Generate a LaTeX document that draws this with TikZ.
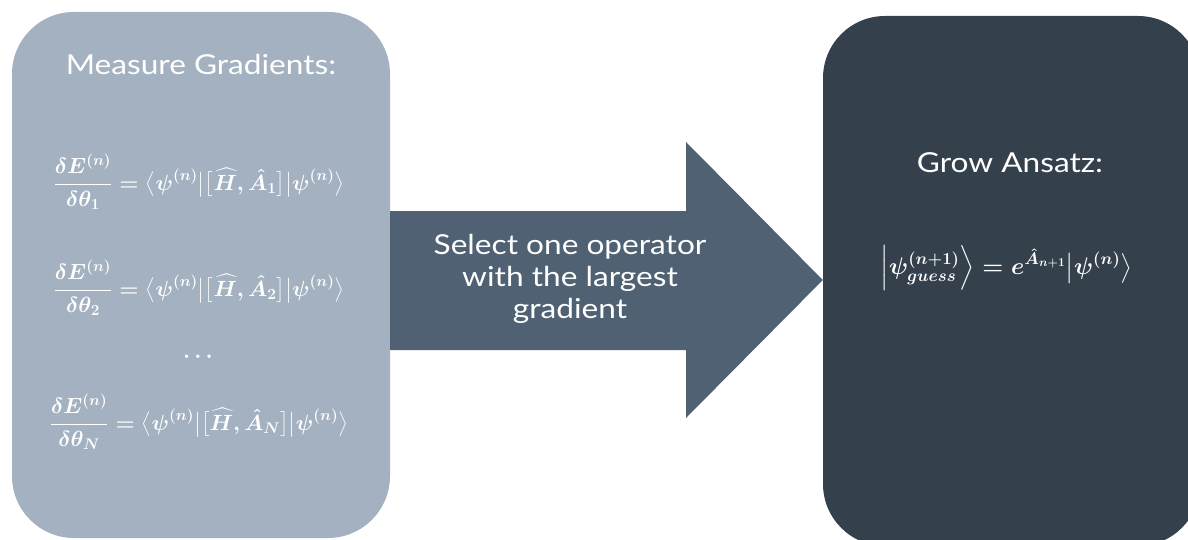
\RequirePackage{fix-cm}
\documentclass[tikz,border=0pt]{standalone}
\usepackage{amsmath}
\usepackage{fontspec}
\setmainfont{Lato}[FakeStretch=1.15]
\usetikzlibrary{calc}
\definecolor{lightbox}{RGB}{163,177,192}
\definecolor{arrowcol}{RGB}{79,97,114}
\definecolor{darkbox}{RGB}{53,64,77}
\begin{document}
\begin{tikzpicture}[x=1pt,y=-1pt,
  box/.style={rounded corners=62pt, inner sep=0pt, draw=none},
  title/.style={text=white, inner sep=0pt, font=\fontsize{27.5}{32}\selectfont},
  eq/.style={text=white, inner sep=0pt, font=\fontsize{22}{26}\selectfont\boldmath},
  lbl/.style={text=white, inner sep=0pt, align=center, font=\fontsize{27.5}{32}\selectfont}]
\useasboundingbox (0,0) rectangle (1188,540);
\clip (0,0) rectangle (1188,540);
\node[box, fill=lightbox, minimum width=378pt, minimum height=526pt] (a) at (201,275) {};
\node[box, fill=darkbox, minimum width=377pt, minimum height=530pt] (b) at (1011.5,281) {};
\coordinate (tip) at (b.west |- 0,280);
\fill[arrowcol] (a.east |- 0,211) -- (686,211) -- (686,142) -- (tip) -- (686,418) -- (686,350) -- (a.east |- 0,350) -- cycle;
\node[lbl] (sel) at (570,279) {Select one operator\\with the largest\\gradient};
\node[title, anchor=base] (t1) at (201,75) {Measure Gradients:};
\node[eq] (e1) at (199,182) {$\displaystyle \frac{\delta E^{(n)}}{\delta\theta_1}=\bigl\langle\psi^{(n)}\big|\bigl[\widehat{H},\hat{A}_1\bigr]\big|\psi^{(n)}\bigr\rangle$};
\node[eq] (e2) at (199,288) {$\displaystyle \frac{\delta E^{(n)}}{\delta\theta_2}=\bigl\langle\psi^{(n)}\big|\bigl[\widehat{H},\hat{A}_2\bigr]\big|\psi^{(n)}\bigr\rangle$};
\node[eq] (dots) at (200,357) {$\dots$};
\node[eq] (e3) at (199,422) {$\displaystyle \frac{\delta E^{(n)}}{\delta\theta_N}=\bigl\langle\psi^{(n)}\big|\bigl[\widehat{H},\hat{A}_N\bigr]\big|\psi^{(n)}\bigr\rangle$};
\node[title, anchor=base] (t2) at (1010,173) {Grow Ansatz:};
\node[eq, font=\fontsize{24}{28}\selectfont\boldmath] (e4) at (1006.5,268) {$\displaystyle \left|\psi^{(n+1)}_{guess}\right\rangle=e^{\hat{A}_{n+1}}\bigl|\psi^{(n)}\bigr\rangle$};
\end{tikzpicture}
\end{document}
